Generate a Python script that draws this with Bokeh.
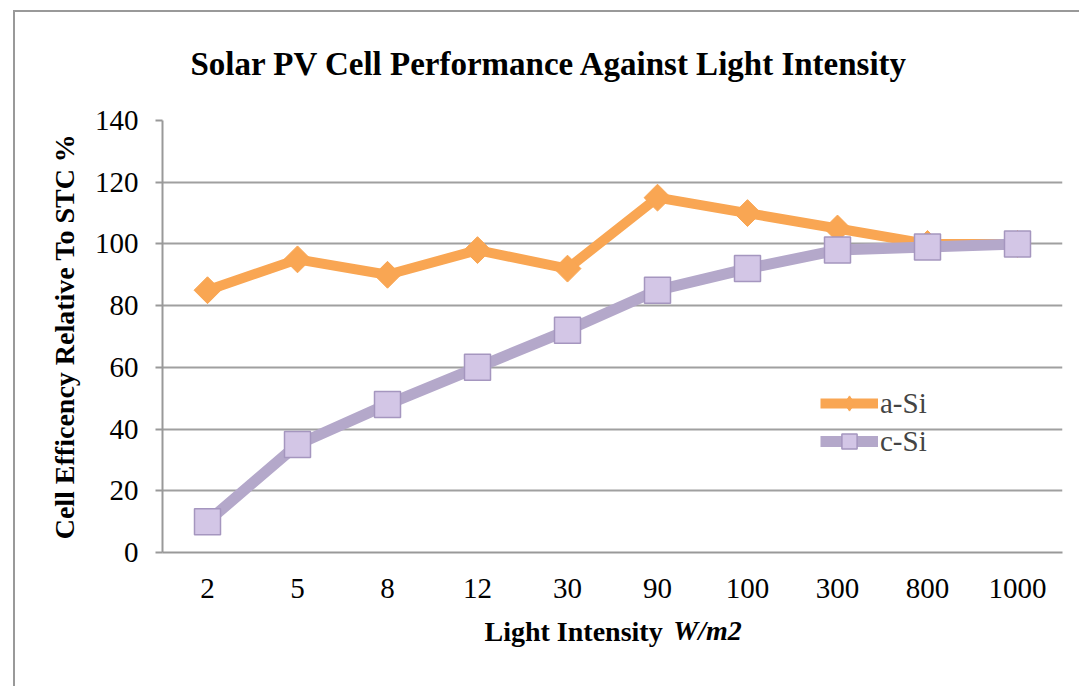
import math
from bokeh.plotting import figure
from bokeh.models import (Label, Legend, LegendItem, FixedTicker, Title,
                          Range1d, FactorRange)
from bokeh.embed import file_html
from bokeh.resources import INLINE

# ---- data ----
intensity = ["2", "5", "8", "12", "30", "90", "100", "300", "800", "1000"]
a_si = [85, 95, 90, 98, 92, 115, 110, 105, 100, 100]
c_si = [10, 35, 48, 60, 72, 85, 92, 98, 99, 100]
y_ticks = [0, 20, 40, 60, 80, 100, 120, 140]

title_text = "Solar PV Cell Performance Against Light Intensity"
y_label = "Cell Efficency Relative To STC %"
x_label_main = "Light Intensity "
x_label_unit = "W/m2"

ORANGE = "#F9A653"
LAV_LINE = "#B4A8CA"
LAV_FILL = "#D3C6E6"
LAV_EDGE = "#A596BF"
GRID = "#A0A0A0"
FONT = "Liberation Serif"

FRAME_L = 162   # frame left position on the canvas (px)

p = figure(width=1079, height=686,
           x_range=FactorRange(*intensity), y_range=Range1d(0, 140),
           output_backend="svg", toolbar_location=None,
           min_border_left=162, min_border_right=17,
           min_border_top=120, min_border_bottom=134)
p.outline_line_color = None
p.background_fill_color = "white"
p.border_fill_color = None
# outer box of the document chart (thin grey frame, left and top edges visible)
p.styles = {
    "background": ("linear-gradient(#999999,#999999) 13px 10px / 2px 100% no-repeat, "
                   "linear-gradient(#999999,#999999) 13px 10px / 100% 2px no-repeat, white"),
}

p.title = Title(text=title_text, align="left", offset=190 - FRAME_L, standoff=77,
                text_font=FONT, text_font_style="bold", text_font_size="33px",
                text_color="black")

# axes
p.yaxis.ticker = FixedTicker(ticks=y_ticks)
p.yaxis.axis_line_color = "#999999"
p.yaxis.axis_line_width = 2
p.yaxis.major_tick_line_color = "#999999"
p.yaxis.major_tick_line_width = 2
p.yaxis.major_tick_out = 7
p.yaxis.major_tick_in = 0
p.yaxis.minor_tick_line_color = None
p.yaxis.major_label_text_font = FONT
p.yaxis.major_label_text_font_size = "29px"
p.yaxis.major_label_text_color = "black"
p.yaxis.major_label_standoff = 17
p.yaxis.axis_label = y_label
p.yaxis.axis_label_text_font = FONT
p.yaxis.axis_label_text_font_style = "bold"
p.yaxis.axis_label_text_font_size = "28px"
p.yaxis.axis_label_text_color = "black"
p.yaxis.axis_label_standoff = 12

p.xaxis.axis_line_color = "#999999"
p.xaxis.axis_line_width = 2
p.xaxis.major_tick_line_color = None
p.xaxis.major_tick_out = 0
p.xaxis.major_tick_in = 0
p.xaxis.minor_tick_line_color = None
p.xaxis.major_label_text_font = FONT
p.xaxis.major_label_text_font_size = "29px"
p.xaxis.major_label_text_color = "black"
p.xaxis.major_label_standoff = 26

p.xgrid.grid_line_color = None
p.ygrid.grid_line_color = GRID
p.ygrid.grid_line_width = 2

# series
la = p.line(intensity, a_si, line_color=ORANGE, line_width=10, line_join="round")
# narrow diamond hidden under the rotated squares: gives the legend its diamond key
sa_key = p.scatter(intensity, a_si, marker="diamond", size=20,
                   fill_color=ORANGE, line_color=ORANGE)
sa = p.scatter(intensity, a_si, marker="square", angle=math.pi / 4, size=19,
               fill_color=ORANGE, line_color=ORANGE, line_width=1)
lc = p.line(intensity, c_si, line_color=LAV_LINE, line_width=11, line_join="round")
sc = p.scatter(intensity, c_si, marker="square", size=26,
               fill_color=LAV_FILL, line_color=LAV_EDGE, line_width=1.5)

legend = Legend(items=[LegendItem(label="a-Si", renderers=[la, sa_key]),
                       LegendItem(label="c-Si", renderers=[lc, sc])],
                location=(658, 92), glyph_width=58, glyph_height=38,
                label_height=38, label_standoff=2, padding=0, spacing=0, margin=0,
                label_text_font=FONT, label_text_font_size="29px",
                border_line_color=None, background_fill_alpha=0)
p.add_layout(legend)

# x axis title with an italic unit: two labels in the panels below the axis
p.add_layout(Label(x=484 - FRAME_L, y=0, x_units="screen", y_units="screen",
                   text=x_label_main, text_font=FONT, text_font_style="bold",
                   text_font_size="28px", text_color="black",
                   text_align="left", text_baseline="middle"),
             "below")
p.add_layout(Label(x=707 - FRAME_L, y=32, x_units="screen", y_units="screen",
                   text=x_label_unit, text_font=FONT, text_font_style="bold italic",
                   text_font_size="28px", text_color="black",
                   text_align="center", text_baseline="middle"),
             "below")

open("out.html", "w").write(file_html(p, INLINE))
